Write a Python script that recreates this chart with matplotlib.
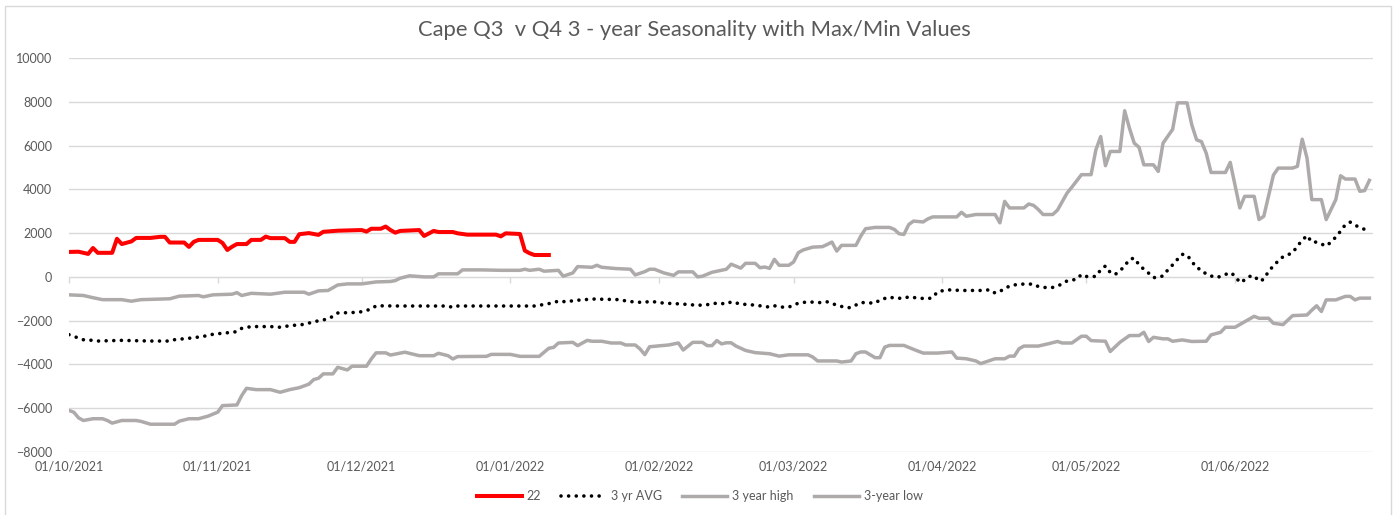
import numpy as np
import pandas as pd
import matplotlib
matplotlib.use('Agg')
from matplotlib import pyplot as plt
from matplotlib import dates as mdates
from matplotlib.patches import Rectangle

plt.rcParams['font.family'] = ['Lato', 'DejaVu Sans']

TITLE = 'Cape Q3  v Q4 3 - year Seasonality with Max/Min Values'

# 2022 season (red)
red_dates = [
    '2021-10-01', '2021-10-03', '2021-10-05', '2021-10-06', '2021-10-07', '2021-10-10',
    '2021-10-11', '2021-10-12', '2021-10-14', '2021-10-15', '2021-10-18', '2021-10-20',
    '2021-10-21', '2021-10-22', '2021-10-25', '2021-10-26', '2021-10-27', '2021-10-28',
    '2021-11-01', '2021-11-02', '2021-11-03', '2021-11-04', '2021-11-05', '2021-11-07',
    '2021-11-08', '2021-11-10', '2021-11-11', '2021-11-12', '2021-11-15', '2021-11-16',
    '2021-11-17', '2021-11-18', '2021-11-20', '2021-11-22', '2021-11-23', '2021-11-26',
    '2021-12-01', '2021-12-02', '2021-12-03', '2021-12-05', '2021-12-06', '2021-12-07',
    '2021-12-08', '2021-12-09', '2021-12-13', '2021-12-14', '2021-12-16', '2021-12-17',
    '2021-12-20', '2021-12-21', '2021-12-23', '2021-12-29', '2021-12-30', '2021-12-31',
    '2022-01-03', '2022-01-04', '2022-01-05', '2022-01-06', '2022-01-09',
]
red_vals = [
    1140, 1150, 1050, 1320, 1100, 1100,
    1740, 1500, 1620, 1780, 1780, 1830,
    1830, 1570, 1570, 1370, 1600, 1690,
    1690, 1550, 1230, 1380, 1500, 1500,
    1690, 1690, 1840, 1770, 1770, 1600,
    1600, 1950, 2000, 1920, 2060, 2110,
    2140, 2070, 2200, 2200, 2300, 2140,
    2020, 2100, 2140, 1870, 2100, 2050,
    2050, 1990, 1930, 1930, 1850, 1990,
    1960, 1200, 1080, 1000, 1000,
]

# 3 yr average (dotted)
avg_dates = [
    '2021-10-01', '2021-10-03', '2021-10-04', '2021-10-06', '2021-10-07', '2021-10-12',
    '2021-10-18', '2021-10-22', '2021-10-23', '2021-10-27', '2021-10-30', '2021-10-31',
    '2021-11-04', '2021-11-05', '2021-11-06', '2021-11-08', '2021-11-12', '2021-11-14',
    '2021-11-16', '2021-11-19', '2021-11-21', '2021-11-24', '2021-11-25', '2021-11-26',
    '2021-11-30', '2021-12-01', '2021-12-03', '2021-12-04', '2021-12-09', '2021-12-19',
    '2021-12-20', '2021-12-21', '2022-01-06', '2022-01-08', '2022-01-10', '2022-01-11',
    '2022-01-13', '2022-01-14', '2022-01-16', '2022-01-18', '2022-01-24', '2022-01-25',
    '2022-01-27', '2022-01-29', '2022-01-30', '2022-02-01', '2022-02-02', '2022-02-05',
    '2022-02-07', '2022-02-09', '2022-02-12', '2022-02-13', '2022-02-15', '2022-02-16',
    '2022-02-18', '2022-02-21', '2022-02-23', '2022-02-24', '2022-02-25', '2022-02-27',
    '2022-02-28', '2022-03-02', '2022-03-04', '2022-03-07', '2022-03-08', '2022-03-10',
    '2022-03-12', '2022-03-13', '2022-03-15', '2022-03-18', '2022-03-19', '2022-03-21',
    '2022-03-22', '2022-03-24', '2022-03-25', '2022-03-27', '2022-03-29', '2022-03-30',
    '2022-03-31', '2022-04-02', '2022-04-05', '2022-04-09', '2022-04-11', '2022-04-12',
    '2022-04-14', '2022-04-15', '2022-04-17', '2022-04-20', '2022-04-21', '2022-04-23',
    '2022-04-24', '2022-04-26', '2022-04-27', '2022-04-29', '2022-04-30', '2022-05-01',
    '2022-05-03', '2022-05-04', '2022-05-05', '2022-05-06', '2022-05-07', '2022-05-08',
    '2022-05-09', '2022-05-10', '2022-05-11', '2022-05-12', '2022-05-13', '2022-05-14',
    '2022-05-15', '2022-05-16', '2022-05-17', '2022-05-18', '2022-05-19', '2022-05-20',
    '2022-05-21', '2022-05-22', '2022-05-23', '2022-05-24', '2022-05-25', '2022-05-26',
    '2022-05-28', '2022-05-29', '2022-05-31', '2022-06-01', '2022-06-02', '2022-06-03',
    '2022-06-04', '2022-06-05', '2022-06-06', '2022-06-07', '2022-06-08', '2022-06-09',
    '2022-06-10', '2022-06-11', '2022-06-13', '2022-06-14', '2022-06-15', '2022-06-16',
    '2022-06-17', '2022-06-18', '2022-06-20', '2022-06-21', '2022-06-22', '2022-06-23',
    '2022-06-24', '2022-06-25', '2022-06-26', '2022-06-28', '2022-06-29',
]
avg_vals = [
    -2640, -2790, -2870, -2900, -2930, -2900,
    -2930, -2930, -2870, -2780, -2680, -2620,
    -2530, -2500, -2350, -2270, -2270, -2300,
    -2230, -2170, -2050, -1920, -1800, -1650,
    -1620, -1590, -1470, -1320, -1330, -1330,
    -1400, -1330, -1330, -1260, -1180, -1100,
    -1150, -1080, -1050, -1010, -1040, -1100,
    -1150, -1170, -1110, -1170, -1200, -1230,
    -1260, -1300, -1250, -1190, -1240, -1140,
    -1240, -1290, -1350, -1380, -1320, -1390,
    -1380, -1200, -1140, -1180, -1140, -1290,
    -1410, -1400, -1170, -1200, -1050, -920,
    -970, -980, -910, -970, -1000, -940,
    -680, -590, -620, -620, -590, -740,
    -560, -410, -330, -330, -440, -500,
    -480, -330, -180, -110, 110, 20,
    20, 320, 500, 200, 110, 270,
    500, 800, 860, 550, 350, 170,
    -30, -30, 50, 320, 550, 800,
    1030, 1000, 710, 410, 330, 120,
    -30, 20, 200, 50, -260, -140,
    20, 50, -200, -110, 260, 500,
    730, 920, 1100, 1410, 1670, 1890,
    1590, 1590, 1410, 1590, 1820, 2090,
    2390, 2500, 2360, 2170, 2000,
]

# 3 year high
high_dates = [
    '2021-10-01', '2021-10-04', '2021-10-06', '2021-10-08', '2021-10-12', '2021-10-14',
    '2021-10-16', '2021-10-22', '2021-10-24', '2021-10-28', '2021-10-29', '2021-10-31',
    '2021-11-04', '2021-11-05', '2021-11-06', '2021-11-08', '2021-11-12', '2021-11-15',
    '2021-11-19', '2021-11-20', '2021-11-22', '2021-11-24', '2021-11-26', '2021-11-28',
    '2021-12-01', '2021-12-04', '2021-12-07', '2021-12-08', '2021-12-09', '2021-12-11',
    '2021-12-14', '2021-12-16', '2021-12-17', '2021-12-21', '2021-12-22', '2021-12-26',
    '2021-12-30', '2022-01-03', '2022-01-04', '2022-01-05', '2022-01-07', '2022-01-08',
    '2022-01-11', '2022-01-12', '2022-01-14', '2022-01-15', '2022-01-18', '2022-01-19',
    '2022-01-20', '2022-01-23', '2022-01-26', '2022-01-27', '2022-01-29', '2022-01-30',
    '2022-01-31', '2022-02-02', '2022-02-04', '2022-02-05', '2022-02-08', '2022-02-09',
    '2022-02-10', '2022-02-12', '2022-02-15', '2022-02-16', '2022-02-18', '2022-02-19',
    '2022-02-21', '2022-02-22', '2022-02-23', '2022-02-24', '2022-02-25', '2022-02-26',
    '2022-02-28', '2022-03-01', '2022-03-02', '2022-03-03', '2022-03-05', '2022-03-07',
    '2022-03-08', '2022-03-09', '2022-03-10', '2022-03-11', '2022-03-14', '2022-03-15',
    '2022-03-16', '2022-03-18', '2022-03-21', '2022-03-22', '2022-03-23', '2022-03-24',
    '2022-03-25', '2022-03-26', '2022-03-28', '2022-03-29', '2022-03-30', '2022-04-04',
    '2022-04-05', '2022-04-06', '2022-04-08', '2022-04-12', '2022-04-13', '2022-04-14',
    '2022-04-15', '2022-04-18', '2022-04-19', '2022-04-20', '2022-04-21', '2022-04-22',
    '2022-04-24', '2022-04-25', '2022-04-27', '2022-04-28', '2022-04-30', '2022-05-02',
    '2022-05-03', '2022-05-04', '2022-05-05', '2022-05-06', '2022-05-08', '2022-05-09',
    '2022-05-10', '2022-05-11', '2022-05-12', '2022-05-13', '2022-05-15', '2022-05-16',
    '2022-05-17', '2022-05-19', '2022-05-20', '2022-05-22', '2022-05-23', '2022-05-24',
    '2022-05-25', '2022-05-26', '2022-05-27', '2022-05-30', '2022-05-31', '2022-06-02',
    '2022-06-03', '2022-06-05', '2022-06-06', '2022-06-07', '2022-06-09', '2022-06-10',
    '2022-06-13', '2022-06-14', '2022-06-15', '2022-06-16', '2022-06-17', '2022-06-19',
    '2022-06-20', '2022-06-22', '2022-06-23', '2022-06-24', '2022-06-26', '2022-06-27',
    '2022-06-28', '2022-06-29',
]
high_vals = [
    -820, -850, -950, -1040, -1040, -1110,
    -1040, -1000, -880, -850, -910, -820,
    -790, -720, -850, -750, -790, -700,
    -700, -790, -640, -620, -370, -320,
    -320, -230, -210, -170, -60, 50,
    0, 0, 140, 140, 320, 320,
    300, 300, 350, 300, 350, 260,
    300, 30, 180, 470, 440, 530,
    440, 380, 350, 90, 240, 350,
    350, 180, 70, 230, 230, 0,
    30, 210, 350, 580, 400, 620,
    620, 420, 450, 390, 800, 530,
    530, 680, 1110, 1230, 1360, 1380,
    1480, 1590, 1180, 1440, 1440, 1860,
    2200, 2260, 2260, 2170, 1970, 1940,
    2390, 2550, 2510, 2650, 2740, 2740,
    2950, 2770, 2850, 2850, 2470, 3450,
    3150, 3150, 3330, 3270, 3080, 2850,
    2850, 3050, 3830, 4100, 4670, 4670,
    5800, 6410, 5080, 5730, 5730, 7590,
    6790, 6110, 5920, 5120, 5120, 4820,
    6110, 6740, 7950, 7950, 6940, 6260,
    6180, 5650, 4770, 4770, 5230, 3150,
    3680, 3680, 2620, 2770, 4650, 4970,
    4970, 5050, 6290, 5430, 3530, 3530,
    2620, 3530, 4620, 4470, 4470, 3910,
    3940, 4410,
]

# 3-year low
low_dates = [
    '2021-10-01', '2021-10-02', '2021-10-03', '2021-10-04', '2021-10-06', '2021-10-08',
    '2021-10-09', '2021-10-10', '2021-10-12', '2021-10-15', '2021-10-16', '2021-10-18',
    '2021-10-23', '2021-10-24', '2021-10-26', '2021-10-28', '2021-10-30', '2021-11-01',
    '2021-11-02', '2021-11-05', '2021-11-06', '2021-11-07', '2021-11-09', '2021-11-12',
    '2021-11-14', '2021-11-16', '2021-11-18', '2021-11-20', '2021-11-21', '2021-11-22',
    '2021-11-23', '2021-11-25', '2021-11-26', '2021-11-28', '2021-11-29', '2021-12-02',
    '2021-12-03', '2021-12-04', '2021-12-06', '2021-12-07', '2021-12-10', '2021-12-13',
    '2021-12-16', '2021-12-17', '2021-12-19', '2021-12-20', '2021-12-21', '2021-12-27',
    '2021-12-28', '2022-01-01', '2022-01-03', '2022-01-07', '2022-01-09', '2022-01-10',
    '2022-01-11', '2022-01-14', '2022-01-15', '2022-01-17', '2022-01-18', '2022-01-20',
    '2022-01-22', '2022-01-24', '2022-01-25', '2022-01-27', '2022-01-28', '2022-01-29',
    '2022-01-30', '2022-01-31', '2022-02-03', '2022-02-05', '2022-02-06', '2022-02-08',
    '2022-02-10', '2022-02-11', '2022-02-12', '2022-02-13', '2022-02-14', '2022-02-15',
    '2022-02-16', '2022-02-17', '2022-02-19', '2022-02-21', '2022-02-24', '2022-02-26',
    '2022-02-28', '2022-03-04', '2022-03-05', '2022-03-06', '2022-03-10', '2022-03-11',
    '2022-03-13', '2022-03-14', '2022-03-15', '2022-03-16', '2022-03-18', '2022-03-19',
    '2022-03-20', '2022-03-21', '2022-03-24', '2022-03-26', '2022-03-28', '2022-03-31',
    '2022-04-03', '2022-04-04', '2022-04-06', '2022-04-08', '2022-04-09', '2022-04-12',
    '2022-04-14', '2022-04-15', '2022-04-16', '2022-04-17', '2022-04-18', '2022-04-21',
    '2022-04-23', '2022-04-25', '2022-04-26', '2022-04-28', '2022-04-30', '2022-05-01',
    '2022-05-02', '2022-05-05', '2022-05-06', '2022-05-08', '2022-05-10', '2022-05-12',
    '2022-05-13', '2022-05-14', '2022-05-15', '2022-05-17', '2022-05-18', '2022-05-19',
    '2022-05-21', '2022-05-23', '2022-05-26', '2022-05-27', '2022-05-29', '2022-05-30',
    '2022-06-01', '2022-06-03', '2022-06-04', '2022-06-05', '2022-06-06', '2022-06-08',
    '2022-06-09', '2022-06-11', '2022-06-13', '2022-06-16', '2022-06-17', '2022-06-18',
    '2022-06-19', '2022-06-20', '2022-06-22', '2022-06-23', '2022-06-24', '2022-06-25',
    '2022-06-26', '2022-06-27', '2022-06-29',
]
low_vals = [
    -6100, -6180, -6440, -6560, -6480, -6480,
    -6560, -6680, -6560, -6560, -6600, -6730,
    -6730, -6590, -6480, -6480, -6360, -6180,
    -5880, -5850, -5420, -5090, -5150, -5150,
    -5270, -5150, -5060, -4900, -4690, -4630,
    -4430, -4430, -4130, -4250, -4080, -4080,
    -3750, -3470, -3470, -3570, -3440, -3600,
    -3600, -3490, -3600, -3750, -3640, -3630,
    -3540, -3540, -3630, -3630, -3260, -3220,
    -3020, -2990, -3140, -2900, -2940, -2940,
    -3020, -3020, -3110, -3110, -3290, -3550,
    -3190, -3170, -3110, -3020, -3340, -2990,
    -2990, -3140, -3140, -2910, -3060, -3010,
    -3010, -3160, -3360, -3460, -3510, -3620,
    -3560, -3560, -3660, -3840, -3840, -3890,
    -3840, -3510, -3430, -3430, -3690, -3690,
    -3210, -3130, -3130, -3310, -3480, -3480,
    -3430, -3710, -3740, -3840, -3960, -3740,
    -3740, -3620, -3620, -3280, -3160, -3160,
    -3060, -2950, -3020, -3020, -2710, -2710,
    -2910, -2940, -3410, -2990, -2680, -2680,
    -2530, -2950, -2760, -2830, -2830, -2940,
    -2880, -2950, -2940, -2650, -2530, -2300,
    -2300, -2050, -1920, -1800, -1890, -1890,
    -2120, -2180, -1770, -1740, -1520, -1320,
    -1580, -1050, -1050, -970, -890, -890,
    -1050, -970, -970,
]

month_ticks = ['2021-10-01', '2021-11-01', '2021-12-01', '2022-01-01', '2022-02-01',
               '2022-03-01', '2022-04-01', '2022-05-01', '2022-06-01']

GRID = '#d9d9d9'
TEXT = '#595959'
GREY = '#aeaaaa'

fig = plt.figure(figsize=(13.99, 5.15), dpi=100)
ax = fig.add_axes([0.0493, 0.1223, 0.9321, 0.7651])

ax.plot(pd.to_datetime(red_dates), red_vals, color='#ff0000', lw=2.9,
        label='22', solid_joinstyle='round', zorder=5)
ax.plot(pd.to_datetime(avg_dates), avg_vals, color='black', lw=2.6,
        linestyle=(0, (0.01, 2.1)), dash_capstyle='round', label='3 yr AVG', zorder=4)
ax.plot(pd.to_datetime(high_dates), high_vals, color=GREY, lw=2.5,
        label='3 year high', solid_joinstyle='round', zorder=3)
ax.plot(pd.to_datetime(low_dates), low_vals, color=GREY, lw=2.5,
        label='3-year low', solid_joinstyle='round', zorder=3)

ymin, ymax = -8000, 10000
ax.set_ylim(ymin, ymax)
ax.set_xlim(pd.Timestamp('2021-10-01'), pd.Timestamp('2022-06-29 18:00'))
ax.set_yticks(np.arange(ymin, ymax + 1, 2000))
ax.grid(axis='y', color=GRID, lw=1.0)
ax.set_axisbelow(True)
for s in ax.spines.values():
    s.set_visible(False)

ticks = pd.to_datetime(month_ticks)
ax.set_xticks(ticks)
ax.xaxis.set_major_formatter(mdates.DateFormatter('%d/%m/%Y'))
ax.tick_params(axis='x', length=0, pad=6, labelsize=9, labelcolor=TEXT)
ax.tick_params(axis='y', length=0, pad=12, labelsize=9, labelcolor=TEXT)

# horizontal axis crosses at zero with small tick marks
zero_pos = (0 - ymin) / (ymax - ymin)
sec = ax.secondary_xaxis(zero_pos)
sec.set_xticks(ticks)
sec.tick_params(axis='x', direction='out', length=4, width=1, color=GRID, labelbottom=False, labeltop=False)
for s in sec.spines.values():
    s.set_color(GRID)

fig.text(0.496, 0.942, TITLE, ha='center', va='center', fontsize=15.8, color=TEXT)

fig.legend(loc='center', bbox_to_anchor=(0.5, 0.037), ncol=4, frameon=False,
           fontsize=9, labelcolor=TEXT, handlelength=3.6, columnspacing=1.6,
           handletextpad=0.4)

# light outer chart border
fig.patches.append(Rectangle((5 / 1399, -0.02), 1386 / 1399, 1.008, transform=fig.transFigure,
                             fill=False, edgecolor=GRID, lw=1.0))

fig.savefig('out.png', dpi=100)
